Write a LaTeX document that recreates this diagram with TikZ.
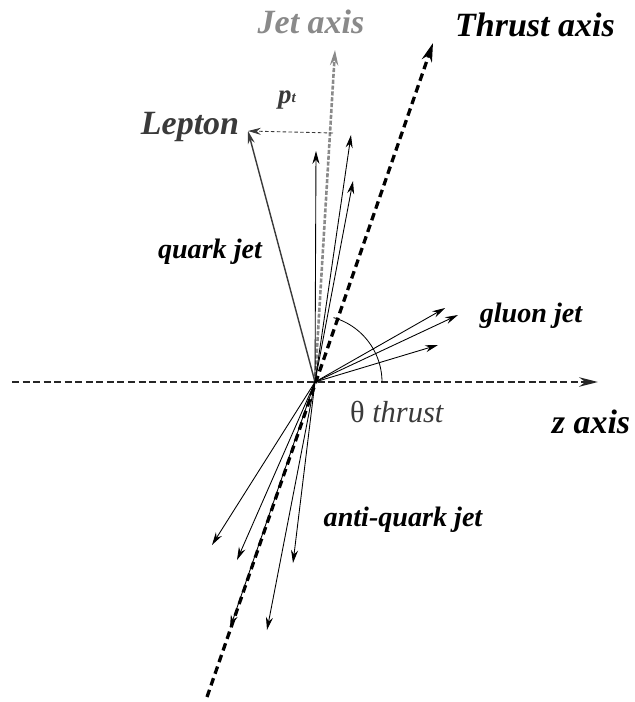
\documentclass[tikz,border=0pt]{standalone}
\usepackage{fontspec}
\setmainfont{Liberation Serif}
\usepackage{xcolor}
\usepackage{tikz}
\usetikzlibrary{arrows.meta}
\definecolor{jetgray}{HTML}{8A8A8A}
\definecolor{darkgray}{HTML}{3A3A3A}

\begin{document}
\begin{tikzpicture}[
  x=0.03cm, y=-0.03cm,
  axislabel/.style={inner sep=0pt, font=\fontsize{29}{31}\selectfont\bfseries\itshape},
  jetlabel/.style={inner sep=0pt, font=\fontsize{24}{26}\selectfont\bfseries\itshape},
  track/.style={-{Stealth[length=11pt, width=6pt]}, line width=0.75pt},
  thrustline/.style={-{Stealth[length=16pt, width=9pt]}, line width=2.8pt, dash pattern=on 6.5pt off 4pt},
  zline/.style={-{Stealth[length=16pt, width=8pt]}, line width=2.4pt, black!85, dash pattern=on 6pt off 3pt},
  jetline/.style={-{Stealth[length=13pt, width=7pt]}, line width=2.2pt, jetgray, dash pattern=on 3.5pt off 1.5pt},
]
  \useasboundingbox (0,0) rectangle (634,702);

  % end points
  \coordinate (o) at (315,382);
  \coordinate (zstart) at (12,382);
  \coordinate (ztip) at (598,382);
  \coordinate (tbottom) at (207,697);
  \coordinate (ttop) at (433,43);
  \coordinate (jtip) at (335,50);
  \coordinate (lep) at (248,131);
  \coordinate (ptstart) at (333,133);
  \coordinate (q1) at (316,151);
  \coordinate (q2) at (351,135);
  \coordinate (q3) at (353,181);
  \coordinate (g1) at (445,308);
  \coordinate (g2) at (458,315);
  \coordinate (g3) at (438,345);
  \coordinate (a1) at (212,545);
  \coordinate (a2) at (237,560);
  \coordinate (a3) at (293,563);
  \coordinate (a4) at (267,630);
  \coordinate (a5) at (230,628);

  % labels
  \node[axislabel, text=jetgray] (jetlab) at (311,22) {Jet axis};
  \node[axislabel] (thrustlab) at (535,25) {Thrust axis};
  \node[axislabel, text=darkgray] (leplab) at (190,127) {Lepton};
  \node[inner sep=0pt, text=darkgray, font=\fontsize{23}{25}\selectfont\bfseries\itshape] (ptlab) at (287,100) {p\raisebox{1pt}{\fontsize{13}{14}\selectfont t}};
  \node[jetlabel] (quarklab) at (210,252) {quark jet};
  \node[jetlabel] (gluonlab) at (531,316) {gluon jet};
  \node[inner sep=0pt, text=darkgray, font=\fontsize{26}{28}\selectfont] (thetalab) at (397,412) {θ \textit{thrust}};
  \node[axislabel] (zlab) at (591,422) {z axis};
  \node[jetlabel] (antilab) at (403,520) {anti-quark jet};

  % axes
  \draw[zline] (zstart) -- (ztip);
  \draw[jetline] (o) -- (jtip);

  % tracks
  \draw[track] (o) -- (q1);
  \draw[track] (o) -- (q2);
  \draw[track] (o) -- (q3);
  \draw[track] (o) -- (g1);
  \draw[track] (o) -- (g2);
  \draw[track] (o) -- (g3);
  \draw[track] (o) -- (a1);
  \draw[track] (o) -- (a2);
  \draw[track] (o) -- (a3);
  \draw[track] (o) -- (a4);
  \draw[track] (o) -- (a5);
  \draw[track, darkgray, line width=1.2pt] (o) -- (lep);
  \draw[track, darkgray, dash pattern=on 3pt off 2pt] (ptstart) -- (lep);

  \draw[thrustline] (tbottom) -- (ttop);

  % angle
  \draw[line width=0.7pt] plot[domain=0:74, samples=30, smooth] ({315+67*cos(\x)}, {382-67*sin(\x)});

\end{tikzpicture}
\end{document}
